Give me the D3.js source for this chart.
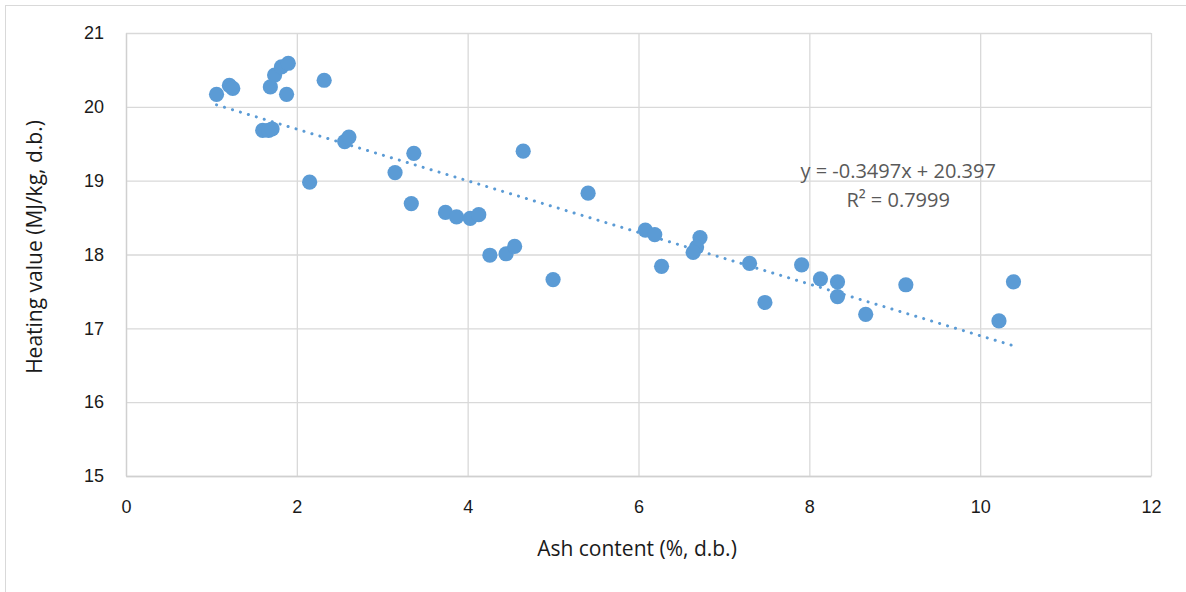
<!DOCTYPE html>
<html>
<head>
<meta charset="utf-8">
<script src="https://cdn.jsdelivr.net/npm/d3@7"></script>
<style>
  body { margin: 0; background: #fff; }
  svg { display: block; font-family: "Open Sans", "Liberation Sans", sans-serif; }
</style>
</head>
<body>
<svg id="chart" width="1186" height="592"></svg>
<script>
// ash content (%, d.b.)
const ash = [
  1.06, 1.21, 1.25, 1.60, 1.67, 1.71, 1.69, 1.74, 1.82, 1.90, 1.88,
  2.15, 2.32, 2.56, 2.61, 3.15, 3.37, 3.34, 3.74, 3.87, 4.03, 4.13,
  4.65, 4.26, 4.45, 4.55, 5.00, 5.41, 6.08, 6.19, 6.27, 6.72, 6.68,
  6.64, 7.30, 7.48, 7.91, 8.13, 8.33, 8.33, 8.66, 9.13, 10.22, 10.39
];
// heating value (MJ/kg, d.b.)
const heating = [
  20.17, 20.29, 20.25, 19.68, 19.68, 19.70, 20.27, 20.43, 20.54, 20.59, 20.17,
  18.98, 20.36, 19.53, 19.59, 19.11, 19.37, 18.69, 18.57, 18.51, 18.49, 18.54,
  19.40, 17.99, 18.01, 18.11, 17.66, 18.83, 18.33, 18.27, 17.84, 18.23, 18.10,
  18.03, 17.88, 17.35, 17.86, 17.67, 17.63, 17.43, 17.19, 17.59, 17.10, 17.63
];
const xTicks = [0, 2, 4, 6, 8, 10, 12];
const yTicks = [15, 16, 17, 18, 19, 20, 21];
const slope = -0.3497, intercept = 20.397;
const eqLabel = 'y = -0.3497x + 20.397';
const r2Label = 'R² = 0.7999';

const points = ash.map((a, i) => ({ x: a, y: heating[i] }));

const svg = d3.select('#chart');
const margin = { left: 126, top: 33, right: 35, bottom: 116 };
const width = 1186 - margin.left - margin.right;
const height = 592 - margin.top - margin.bottom;

// outer chart frame
svg.append('rect')
  .attr('x', 5.5).attr('y', 5.5)
  .attr('width', 1190).attr('height', 600)
  .attr('fill', 'none')
  .attr('stroke', '#d9d9d9')
  .attr('stroke-width', 1);

const x = d3.scaleLinear().domain([0, 12]).range([0, width]);
const y = d3.scaleLinear().domain([15, 21]).range([height, 0]);

const main = svg.append('g')
  .attr('transform', `translate(${margin.left},${margin.top})`);

// gridlines
main.append('g')
  .attr('class', 'ygrid')
  .call(d3.axisLeft(y).tickValues(yTicks).tickSize(-width).tickFormat(''))
  .call(g => g.select('.domain').remove())
  .call(g => g.selectAll('line').attr('stroke', '#d9d9d9').attr('stroke-width', 1.3));

main.append('g')
  .attr('class', 'xgrid')
  .attr('transform', `translate(0,${height})`)
  .call(d3.axisBottom(x).tickValues(xTicks).tickSize(-height).tickFormat(''))
  .call(g => g.select('.domain').remove())
  .call(g => g.selectAll('line').attr('stroke', '#d9d9d9').attr('stroke-width', 1.3));

// axes
const xAxis = main.append('g')
  .attr('transform', `translate(0,${height})`)
  .call(d3.axisBottom(x).tickValues(xTicks).tickSize(0).tickPadding(24).tickFormat(d3.format('d')));
xAxis.select('.domain').attr('stroke', '#d0d0d0').attr('stroke-width', 1.3);
xAxis.selectAll('text').attr('font-size', 18).attr('fill', '#1a1a1a');

const yAxis = main.append('g')
  .call(d3.axisLeft(y).tickValues(yTicks).tickSize(0).tickPadding(22).tickFormat(d3.format('d')));
yAxis.select('.domain').attr('stroke', '#d0d0d0').attr('stroke-width', 1.3);
yAxis.selectAll('text').attr('font-size', 18).attr('fill', '#1a1a1a');

// axis titles
svg.append('text')
  .attr('x', 637)
  .attr('y', 556)
  .attr('text-anchor', 'middle')
  .attr('font-size', 21)
  .attr('fill', '#1a1a1a')
  .text('Ash content (%, d.b.)');

svg.append('text')
  .attr('transform', 'translate(42, 247) rotate(-90)')
  .attr('text-anchor', 'middle')
  .attr('font-size', 21)
  .attr('fill', '#1a1a1a')
  .text('Heating value (MJ/kg, d.b.)');

// trendline
const xExt = d3.extent(ash);
const trend = xExt.map(v => ({ x: v, y: slope * v + intercept }));
main.append('path')
  .datum(trend)
  .attr('fill', 'none')
  .attr('stroke', '#5b9bd5')
  .attr('stroke-width', 3)
  .attr('stroke-linecap', 'round')
  .attr('stroke-dasharray', '0.1 8.2')
  .attr('d', d3.line().x(d => x(d.x)).y(d => y(d.y)));

// points
main.append('g')
  .selectAll('circle')
  .data(points)
  .join('circle')
  .attr('cx', d => x(d.x))
  .attr('cy', d => y(d.y))
  .attr('r', 7.6)
  .attr('fill', '#5b9bd5');

// equation label
const eq = main.append('g')
  .attr('font-size', 20)
  .attr('fill', '#595959')
  .attr('text-anchor', 'middle');
eq.append('text')
  .attr('x', x(9.04))
  .attr('y', y(19.0) - 3)
  .text(eqLabel);
eq.append('text')
  .attr('x', x(9.04))
  .attr('y', y(18.62) - 2)
  .text(r2Label);
</script>
</body>
</html>
